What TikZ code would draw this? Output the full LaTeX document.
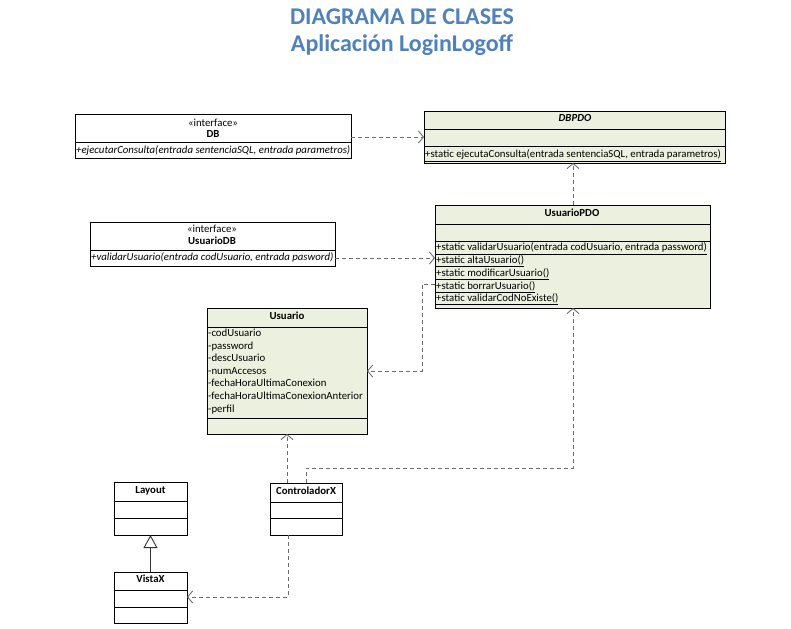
\documentclass[tikz,border=0pt]{standalone}
\usepackage{fontspec}
\setmainfont{Carlito}
\usetikzlibrary{arrows.meta}
\definecolor{titleblue}{HTML}{4F81BD}
\definecolor{clsfill}{HTML}{EBF1DE}
\definecolor{linkgray}{gray}{0.42}
\begin{document}
\begin{tikzpicture}[x=1pt,y=-1pt,
  box/.style={draw=black, line width=0.9pt, anchor=north west, inner sep=0pt, outer sep=0pt},
  sepline/.style={draw=black, line width=0.9pt},
  txt/.style={font=\fontsize{10.8}{12}\selectfont, inner sep=0pt, text height=7.5pt, text depth=2pt},
  clsname/.style={txt, font=\fontsize{10.8}{12}\selectfont\bfseries},
  member/.style={txt, anchor=west},
  title/.style={font=\fontsize{24}{28}\selectfont\bfseries, text=titleblue, inner sep=0pt},
  dep/.style={draw=linkgray, dash pattern=on 4pt off 3pt, line width=0.8pt,
    -{Straight Barb[length=5pt,width=12pt,line width=0.9pt]}},
  inherit/.style={draw=black!80, line width=0.9pt,
    -{Triangle[open,length=13pt,width=14pt,fill=white]}}]

\useasboundingbox (0,0) rectangle (791,628);

% Title
\node[title] (t1) at (402,17) {DIAGRAMA DE CLASES};
\node[title] (t2) at (402,45) {Aplicación LoginLogoff};

% Interface DB
\node[box, fill=white, minimum width=276pt, minimum height=44pt] (db) at (75,114) {};
\draw[sepline] (75,142) -- (351,142);
\node[txt] (dbst) at (213,124) {«interface»};
\node[clsname] (dbn) at (213,135) {DB};
\node[member] (dbm) at (76,151) {\itshape +ejecutarConsulta(entrada sentenciaSQL, entrada parametros)};

% Class DBPDO
\node[box, fill=clsfill, minimum width=301pt, minimum height=52pt] (dbpdo) at (424,111) {};
\draw[sepline] (424,129) -- (725,129);
\draw[sepline] (424,146) -- (725,146);
\node[clsname] (dbpdon) at (575,119) {\itshape DBPDO};
\node[member] (dbpdom) at (425,155) {\underline{+static ejecutaConsulta(entrada sentenciaSQL, entrada parametros)}};

% Interface UsuarioDB
\node[box, fill=white, minimum width=245pt, minimum height=44pt] (udb) at (90,222) {};
\draw[sepline] (90,250) -- (335,250);
\node[txt] (udbst) at (212,230) {«interface»};
\node[clsname] (udbn) at (212,242) {UsuarioDB};
\node[member] (udbm) at (91,258) {\itshape +validarUsuario(entrada codUsuario, entrada pasword)};

% Class UsuarioPDO
\node[box, fill=clsfill, minimum width=275pt, minimum height=103pt] (upd) at (435,205) {};
\draw[sepline] (435,224) -- (710,224);
\draw[sepline] (435,241) -- (710,241);
\node[clsname] (updn) at (572,214) {UsuarioPDO};
\node[member] (updm1) at (436,248) {\underline{+static validarUsuario(entrada codUsuario, entrada password)}};
\node[member] (updm2) at (436,261) {\underline{+static altaUsuario()}};
\node[member] (updm3) at (436,274) {\underline{+static modificarUsuario()}};
\node[member] (updm4) at (436,287) {\underline{+static borrarUsuario()}};
\node[member] (updm5) at (436,299) {\underline{+static validarCodNoExiste()}};

% Class Usuario
\node[box, fill=clsfill, minimum width=160pt, minimum height=126pt] (usu) at (207,308) {};
\draw[sepline] (207,327) -- (367,327);
\draw[sepline] (207,418) -- (367,418);
\node[clsname] (usun) at (287,317) {Usuario};
\node[member] (usa1) at (208,334) {-codUsuario};
\node[member] (usa2) at (208,347) {-password};
\node[member] (usa3) at (208,359) {-descUsuario};
\node[member] (usa4) at (208,372) {-numAccesos};
\node[member] (usa5) at (208,384) {-fechaHoraUltimaConexion};
\node[member] (usa6) at (208,397) {-fechaHoraUltimaConexionAnterior};
\node[member] (usa7) at (208,410) {-perfil};

% Class Layout
\node[box, fill=white, minimum width=73pt, minimum height=53pt] (lay) at (114,482) {};
\draw[sepline] (114,501) -- (187,501);
\draw[sepline] (114,518) -- (187,518);
\node[clsname] (layn) at (150.5,491) {Layout};

% Class VistaX
\node[box, fill=white, minimum width=73pt, minimum height=51pt] (vis) at (114,572) {};
\draw[sepline] (114,590) -- (187,590);
\draw[sepline] (114,607) -- (187,607);
\node[clsname] (visn) at (150.5,580) {VistaX};

% Class ControladorX
\node[box, fill=white, minimum width=72pt, minimum height=52pt] (ctl) at (270,483) {};
\draw[sepline] (270,502) -- (342,502);
\draw[sepline] (270,518) -- (342,518);
\node[clsname] (ctln) at (306,492) {ControladorX};

% Connectors
\coordinate (cu1) at (422,284);
\coordinate (cu2) at (422,371);
\coordinate (cc1) at (306,468);
\coordinate (cc2) at (573,468);
\coordinate (cv1) at (288,597);

\draw[dep] (db.east |- 0,137) -- (dbpdo.west |- 0,137);
\draw[dep] (upd.north -| 573,0) -- (dbpdo.south -| 573,0);
\draw[dep] (udb.east |- udbm) -- (upd.west |- udbm);
\draw[dep] (upd.west |- cu1) -- (cu1) -- (cu2) -- (usu.east |- cu2);
\draw[dep] (ctl.north -| 287,0) -- (usu.south -| 287,0);
\draw[dep] (ctl.north -| cc1) -- (cc1) -- (cc2) -- (upd.south -| cc2);
\draw[dep] (ctl.south -| cv1) -- (cv1) -- (vis.east |- cv1);
\draw[inherit] (vis.north -| 150.5,0) -- (lay.south -| 150.5,0);
\end{tikzpicture}
\end{document}
